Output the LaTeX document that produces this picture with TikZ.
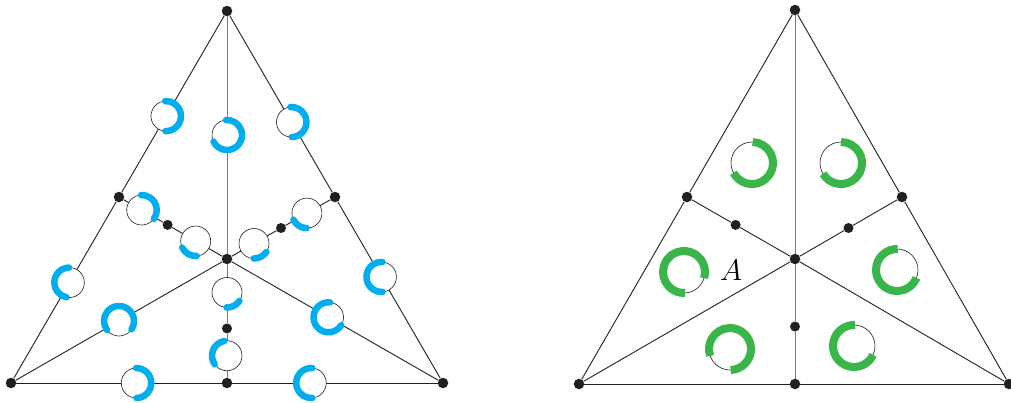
\documentclass[tikz,border=0pt]{standalone}
\usetikzlibrary{calc}
\definecolor{ink}{HTML}{231F20}
\definecolor{cyanb}{HTML}{00AEEF}
\definecolor{greenc}{HTML}{39B54A}
\tikzset{
  edge/.style={draw=ink, line width=0.9pt},
  midline/.style={draw=ink!60, line width=1pt},
  dot/.style={circle, fill=ink, inner sep=0pt, minimum size=10.5pt},
  sdot/.style={circle, fill=ink, inner sep=0pt, minimum size=10pt},
  ring/.style={draw=ink, line width=0.6pt, fill=white},
  barc/.style={draw=cyanb, line width=6.5pt, line cap=round},
  garc/.style={draw=greenc, line width=8pt, line cap=butt},
}
\newcommand{\bluering}[3]{%
  \draw[ring] (#1) circle[radius=15pt];
  \draw[barc] ($(#1)+(#2:15pt)$) arc[start angle=#2, end angle=#3, radius=15pt];
}
\newcommand{\greenring}[3]{%
  \draw[ring] (#1) circle[radius=21pt];
  \draw[garc] ($(#1)+(#2:21pt)$) arc[start angle=#2, end angle=#3, radius=21pt];
}
\begin{document}
\begin{tikzpicture}[x=1pt,y=1pt]
\useasboundingbox (0,0) rectangle (1011,-402);
% ---------- left triangle ----------
\node[dot] (T) at (227,-11) {};
\node[dot] (L) at (11,-383) {};
\node[dot] (R) at (443,-383) {};
\node[dot] (C) at (227,-259) {};
\node[dot] (Mb) at (227,-383) {};
\node[dot] (Ml) at (119,-197) {};
\node[dot] (Mr) at (335,-197) {};
\node[sdot] (sl) at ($(Ml)!0.45!(C)$) {};
\node[sdot] (sr) at ($(Mr)!0.5!(C)$) {};
\node[sdot] (sb) at ($(C)!0.56!(Mb)$) {};
\draw[edge] (T) -- (Ml) -- (L);
\draw[edge] (T) -- (Mr) -- (R);
\draw[edge] (L) -- (Mb) -- (R);
\draw[edge] (C) -- (L);
\draw[edge] (C) -- (R);
\draw[edge] (C) -- (sl) -- (Ml);
\draw[edge] (C) -- (sr) -- (Mr);
\draw[midline] (T) -- (C);
\draw[midline] (C) -- (sb) -- (Mb);
% blue rings
\coordinate (a1) at ($(T)!0.565!(Ml)$);
\coordinate (a2) at ($(T)!0.5!(C)$);
\coordinate (a3) at ($(T)!0.597!(Mr)$);
\coordinate (a4) at ($(Ml)!0.21!(C)$);
\coordinate (a5) at ($(Ml)!0.71!(C)$);
\coordinate (a6) at ($(C)!0.25!(Mr)$);
\coordinate (a7) at ($(C)!0.74!(Mr)$);
\coordinate (b1) at ($(Ml)!0.46!(L)$);
\coordinate (b2) at ($(L)!0.5!(C)$);
\coordinate (b3) at ($(C)!0.27!(Mb)$);
\coordinate (b4) at ($(C)!0.78!(Mb)$);
\coordinate (b5) at ($(L)!0.58!(Mb)$);
\coordinate (b6) at ($(Mb)!0.39!(R)$);
\coordinate (b7) at ($(C)!0.47!(R)$);
\coordinate (b8) at ($(Mr)!0.43!(R)$);
\bluering{a1}{-92}{93}
\bluering{a2}{-154}{94}
\bluering{a3}{-89}{94}
\bluering{a4}{-36}{92}
\bluering{a5}{206}{274}
\bluering{a6}{269}{326}
\bluering{a7}{206}{269}
\bluering{b1}{91}{259}
\bluering{b2}{-34}{217}
\bluering{b3}{268}{326}
\bluering{b4}{100}{215}
\bluering{b5}{-89}{91}
\bluering{b6}{86}{274}
\bluering{b7}{84}{328}
\bluering{b8}{86}{274}
% ---------- right triangle ----------
\node[dot] (T2) at (795,-10) {};
\node[dot] (L2) at (579,-384) {};
\node[dot] (R2) at (1009,-384) {};
\node[dot] (C2) at (795,-259) {};
\node[dot] (Mb2) at (795,-384) {};
\node[dot] (Ml2) at (687,-197) {};
\node[dot] (Mr2) at (902,-197) {};
\node[sdot] (sl2) at ($(Ml2)!0.45!(C2)$) {};
\node[sdot] (sr2) at ($(Mr2)!0.5!(C2)$) {};
\node[sdot] (sb2) at ($(C2)!0.54!(Mb2)$) {};
\draw[edge] (T2) -- (Ml2) -- (L2);
\draw[edge] (T2) -- (Mr2) -- (R2);
\draw[edge] (L2) -- (Mb2) -- (R2);
\draw[edge] (C2) -- (L2);
\draw[edge] (C2) -- (R2);
\draw[edge] (C2) -- (sl2) -- (Ml2);
\draw[edge] (C2) -- (sr2) -- (Mr2);
\draw[midline] (T2) -- (C2);
\draw[midline] (C2) -- (sb2) -- (Mb2);
% green rings
\coordinate (g1) at (752,-163);
\coordinate (g2) at (841,-163);
\coordinate (g3) at (684,-272);
\coordinate (g4) at (897,-270);
\coordinate (g5) at (730,-349);
\coordinate (g6) at (854,-346);
\greenring{g1}{-152}{88}
\greenring{g2}{-149}{90}
\greenring{g3}{-17}{273}
\greenring{g4}{88}{338}
\greenring{g5}{-88}{199}
\greenring{g6}{87}{335}
\node[scale=1.2] (lblA) at (731,-270) {\Huge $A$};
\end{tikzpicture}
\end{document}
